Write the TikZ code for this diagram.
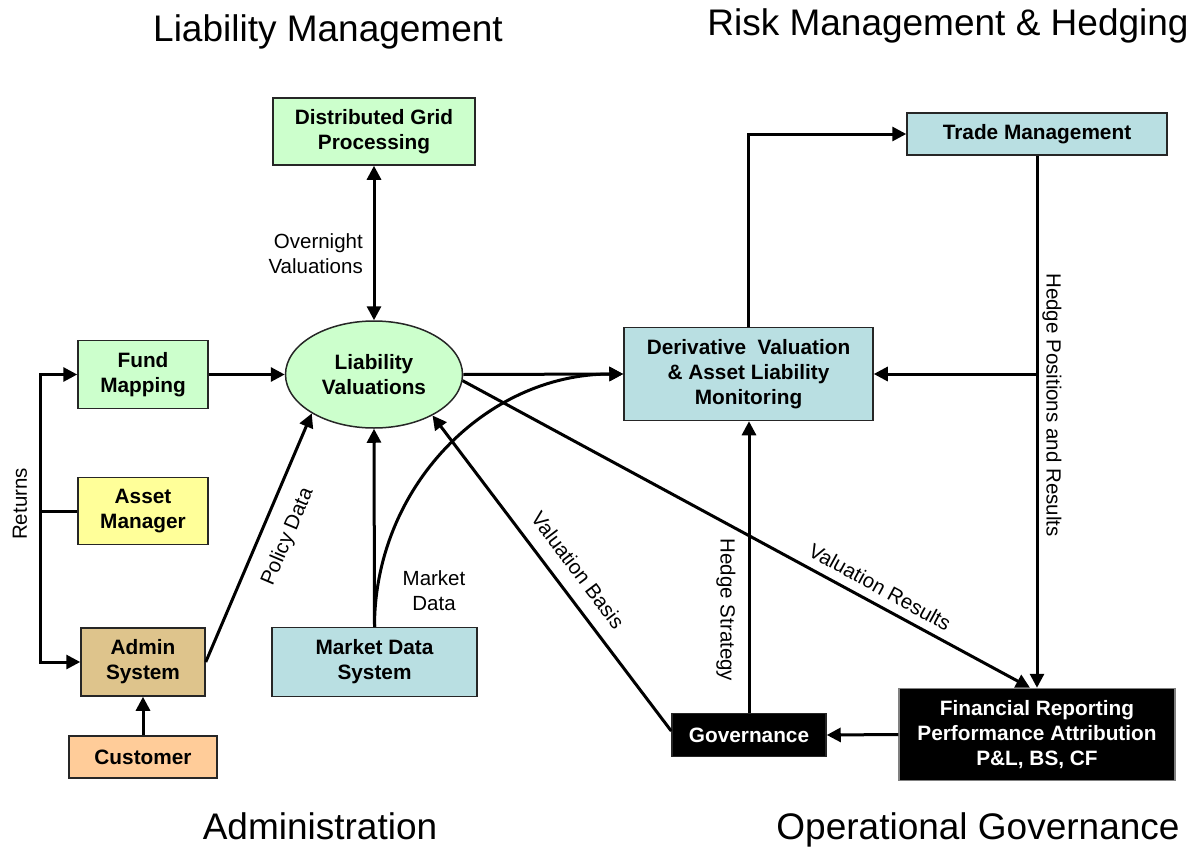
\documentclass[tikz,border=0pt]{standalone}
\usepackage{fontspec}
\setmainfont{Liberation Sans}
\usetikzlibrary{arrows.meta,shapes.geometric}
\definecolor{lgreen}{HTML}{CCFFCC}
\definecolor{lyellow}{HTML}{FFFF99}
\definecolor{tanbox}{HTML}{DEC48C}
\definecolor{peach}{HTML}{FFCC99}
\definecolor{lblue}{HTML}{B9DFE2}
\begin{document}
\begin{tikzpicture}[x=1pt,y=-1pt,
  box/.style={draw=black!85,line width=1.5pt,align=center,inner sep=0pt,font=\fontsize{20.8}{25}\selectfont\bfseries},
  conn/.style={line width=3pt},
  arr/.style={conn,-{Triangle[length=14pt,width=14pt]}},
  darr/.style={conn,{Triangle[length=14pt,width=14pt]}-{Triangle[length=14pt,width=14pt]}},
  lbl/.style={font=\fontsize{20.5}{25}\selectfont,inner sep=0pt},
  title/.style={font=\fontsize{37}{44}\selectfont,inner sep=0pt,anchor=base}]

\useasboundingbox (0,0) rectangle (1201,848);

% titles
\node[title] (t1) at (328,42) {Liability Management};
\node[title] (t2) at (948,36) {Risk Management \& Hedging};
\node[title] (t3) at (320,839) {Administration};
\node[title] (t4) at (978,839) {Operational Governance};

% nodes
\node[box,fill=lgreen,minimum width=202pt,minimum height=67pt] (grid) at (374,131.5) {Distributed Grid\\Processing};
\node[box,fill=lgreen,minimum width=130pt,minimum height=68pt] (fund) at (143,374.5) {Fund\\Mapping};
\node[box,fill=lyellow,minimum width=130pt,minimum height=67pt] (am) at (143,511) {Asset\\Manager};
\node[box,fill=tanbox,minimum width=124pt,minimum height=68pt] (adm) at (143,662) {Admin\\System};
\node[box,fill=peach,minimum width=148pt,minimum height=42pt] (cust) at (143,757) {Customer};
\node[box,ellipse,fill=lgreen,minimum width=177pt,minimum height=107pt] (lv) at (374,374.5) {Liability\\Valuations};
\node[box,fill=lblue,minimum width=205pt,minimum height=69pt] (mds) at (374.5,662) {Market Data\\System};
\node[box,fill=lblue,minimum width=249pt,minimum height=93pt] (der) at (748.5,374) {Derivative\ \ Valuation\\\& Asset Liability\\Monitoring};
\node[box,fill=lblue,minimum width=260pt,minimum height=42pt] (trade) at (1037,134) {Trade Management};
\node[box,fill=black,text=white,minimum width=154pt,minimum height=43pt] (gov) at (749,735) {Governance};
\node[box,fill=black,draw=gray,text=white,minimum width=276pt,minimum height=92pt] (fin) at (1037,734.5) {Financial Reporting\\Performance Attribution\\P\&L, BS, CF};

% returns
\coordinate (ret) at (40,510);
\draw[darr] (fund.west) -- (fund.west -| ret) -- (adm.west -| ret) -- (adm.west);
\draw[conn] (am.west) -- (am.west -| ret);
\node[lbl,rotate=90] (lret) at (20,504) {Returns};

% connectors
\draw[arr] (fund.east) -- (fund.east -| lv.west);
\draw[darr] (grid.south) -- (lv.north);
\node[lbl,align=right,anchor=east] (lon) at (363,254) {Overnight\\Valuations};
\draw[arr] (adm.east) -- (lv.212);
\node[lbl,rotate=67] (lpd) at (288,537) {Policy Data};
\draw[arr] (cust.north) -- (adm.south);
\draw[arr] (mds.north) -- (lv.south);
\draw[arr] (mds.north) .. controls (374.5,487) and (486,374) .. (der.west);
\node[lbl,align=center] (lmd) at (434,591) {Market\\Data};
\draw[arr] (lv.east) -- (der.west);
\draw[arr] (lv.-4) -- ([xshift=-7pt]fin.north);
\node[lbl,rotate=-28.7] (lvr) at (880,587) {Valuation Results};
\draw[arr] ([yshift=4pt]gov.west) -- (lv.-35.4);
\node[lbl,rotate=-53] (lvb) at (578,570) {Valuation Basis};
\draw[arr] (gov.north) -- (gov.north |- der.south);
\node[lbl,rotate=-90] (lhs) at (726,610) {Hedge Strategy};
\draw[arr] (der.north) |- (trade.west);
\draw[arr] (trade.south) -- (trade.south |- fin.north);
\coordinate (hp) at (trade.south |- der.east);
\draw[arr] (hp) -- (der.east);
\node[lbl,rotate=-90] (lhp) at (1052,405) {Hedge Positions and Results};
\draw[arr] (fin.west) -- (gov.east);
\end{tikzpicture}
\end{document}
